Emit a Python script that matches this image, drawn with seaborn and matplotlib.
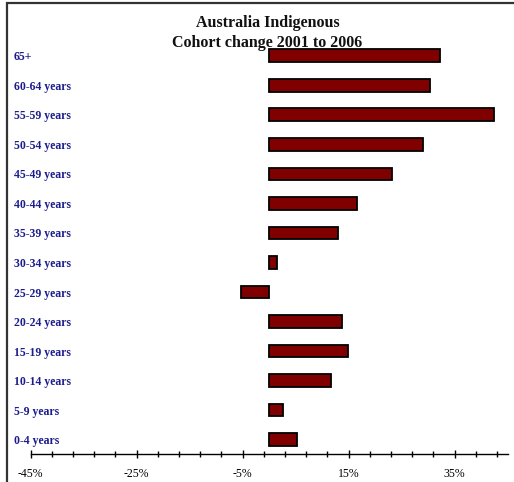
import matplotlib
matplotlib.use("Agg")
import matplotlib.pyplot as plt
import matplotlib.patches as mpatches
from matplotlib.ticker import FuncFormatter
import seaborn as sns
import pandas as pd

# Age cohorts, top to bottom
age_groups = ["65+", "60-64 years", "55-59 years", "50-54 years", "45-49 years",
              "40-44 years", "35-39 years", "30-34 years", "25-29 years",
              "20-24 years", "15-19 years", "10-14 years", "5-9 years", "0-4 years"]
# Percentage change of each cohort between 2001 and 2006
cohort_change = [32.2, 30.4, 42.4, 29.1, 23.2, 16.5, 13.0, 1.4, -5.3,
                 13.7, 14.8, 11.6, 2.7, 5.3]
title_lines = ["Australia Indigenous", "Cohort change 2001 to 2006"]

df = pd.DataFrame({"group": age_groups, "change": cohort_change})

sns.set_theme(style="white")
plt.rcParams["font.family"] = ["Liberation Serif", "DejaVu Serif"]

fig = plt.figure(figsize=(5.14, 4.82), dpi=100)
ax = fig.add_axes([30.7 / 514, 1 - 454 / 482, 476.9 / 514, (454 - 41.4) / 482])

sns.barplot(data=df, x="change", y="group", orient="h", color="#800000",
            edgecolor="black", linewidth=1.3, width=0.43, saturation=1, ax=ax)

ax.set_xlim(-45, 45)
ax.set_ylim(13.485, -0.485)
ax.set_xlabel("")
ax.set_ylabel("")

# x axis: ticks every 4%, labels every 20%
ax.set_xticks([-45, -25, -5, 15, 35])
ax.set_xticks([-45 + 4 * i for i in range(23)], minor=True)
ax.xaxis.set_major_formatter(FuncFormatter(lambda v, p: f"{v:.0f}%"))
ax.tick_params(axis="x", which="both", direction="inout", length=6, width=1,
               color="black", bottom=True, labelsize=8.5, pad=7, labelcolor="black")
ax.tick_params(axis="x", which="minor", length=5)

# category labels at the far left
ax.tick_params(axis="y", left=False, length=0, pad=12)
for lab in ax.get_yticklabels():
    lab.set_horizontalalignment("left")
    lab.set_fontweight("bold")
    lab.set_fontsize(8.5)
    lab.set_color("#1c1c8c")

for side in ["top", "right", "left"]:
    ax.spines[side].set_visible(False)
ax.spines["bottom"].set_color("black")
ax.spines["bottom"].set_linewidth(1)

fig.text(267.5 / 514, 1 - 22.7 / 482, title_lines[0], ha="center", va="center",
         fontsize=11.5, fontweight="bold", color="#111111")
fig.text(267.5 / 514, 1 - 42.7 / 482, title_lines[1], ha="center", va="center",
         fontsize=11.5, fontweight="bold", color="#111111")

# outer chart frame
frame = mpatches.Rectangle((7 / 514, -0.05), 1.1, 1 - 2.5 / 482 + 0.05,
                           transform=fig.transFigure, fill=False,
                           edgecolor="#333333", linewidth=1.6, clip_on=False)
fig.patches.append(frame)

fig.savefig("out.png", dpi=100)
